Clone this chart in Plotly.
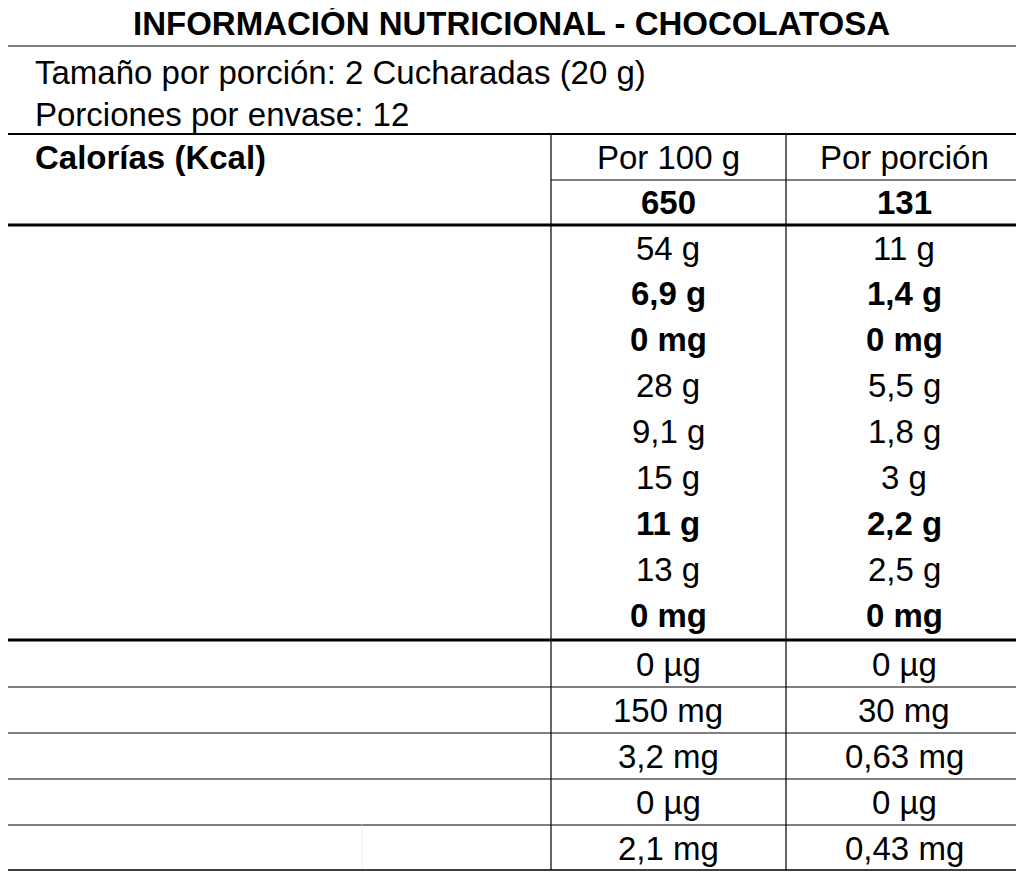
import plotly.graph_objects as go

title = "INFORMACIÓN NUTRICIONAL - CHOCOLATOSA"
serving = ["Tamaño por porción: 2 Cucharadas (20 g)", "Porciones por envase: 12"]
col_heads = ["Por 100 g", "Por porción"]
calories = ["650", "131"]
nutrients = ["Grasa total", "Grasa saturada", "Grasa trans", "Carbohidratos totales", "Fibra dietaria",
             "Azúcares totales", "Azúcares añadidos", "Proteína", "Sodio"]
per100 = ["54 g", "6,9 g", "0 mg", "28 g", "9,1 g", "15 g", "11 g", "13 g", "0 mg"]
perportion = ["11 g", "1,4 g", "0 mg", "5,5 g", "1,8 g", "3 g", "2,2 g", "2,5 g", "0 mg"]
bold = [False, True, True, False, False, False, True, False, True]
micros = ["Vitamina A", "Calcio", "Hierro", "Vitamina D", "Zinc"]
micro100 = ["0 µg", "150 mg", "3,2 mg", "0 µg", "2,1 mg"]
microport = ["0 µg", "30 mg", "0,63 mg", "0 µg", "0,43 mg"]

F = "Liberation Sans, Arial, sans-serif"
FS = 33
ann = []
def t(x, y, s, b=False, anchor="left", size=FS):
    ann.append(dict(x=x, y=y, text=f"<b>{s}</b>" if b else s, showarrow=False, xref="x", yref="y",
                    xanchor=anchor, yanchor="middle", font=dict(family=F, size=size, color="black")))

shapes = []
def ln(x0, y0, x1, y1, w=1.5):
    shapes.append(dict(type="line", x0=x0, y0=y0, x1=x1, y1=y1, xref="x", yref="y",
                       line=dict(color="black", width=w)))

C1, C2 = 668, 904
t(511, 23, title, True, "center")
for i, s in enumerate(serving):
    t(33, 72 + 42 * i, s)
t(33, 157, "Calorías (Kcal)", True)
t(C1, 157, col_heads[0], anchor="center")
t(C2, 157, col_heads[1], anchor="center")
t(C1, 202, calories[0], True, "center")
t(C2, 202, calories[1], True, "center")
step = 45.9
for i, n in enumerate(nutrients):
    y = 248 + step * i
    t(6, y, n, bold[i])
    t(C1, y, per100[i], bold[i], "center")
    t(C2, y, perportion[i], bold[i], "center")
for i, n in enumerate(micros):
    y = 664 + 46 * i
    t(6, y, n)
    t(C1, y, micro100[i], anchor="center")
    t(C2, y, microport[i], anchor="center")
    if i > 0:
        ln(0, y - 23, 1022, y - 23, 1.2)

ln(0, 46, 1022, 46, 1.2)
ln(0, 134, 1022, 134, 2)
ln(551, 180, 1022, 180, 1.2)
ln(0, 225, 1022, 225, 3)
ln(0, 640, 1022, 640, 3)
ln(551, 134, 551, 870, 1.2)
ln(786, 134, 786, 870, 1.2)
ln(362, 824, 362, 870, 0.5)
shapes[-1]["line"]["color"] = "#dddddd"
shapes.append(dict(type="rect", x0=1, y0=1, x1=1022, y1=870, xref="x", yref="y",
                   line=dict(color="black", width=1.5)))

fig = go.Figure()
fig.update_layout(width=1016, height=864, margin=dict(l=0, r=0, t=0, b=0),
                  plot_bgcolor="white", paper_bgcolor="white", annotations=ann, shapes=shapes,
                  xaxis=dict(range=[8, 1024], visible=False, fixedrange=True),
                  yaxis=dict(range=[872, 8], visible=False, fixedrange=True), showlegend=False)
fig.write_html("out.html")
